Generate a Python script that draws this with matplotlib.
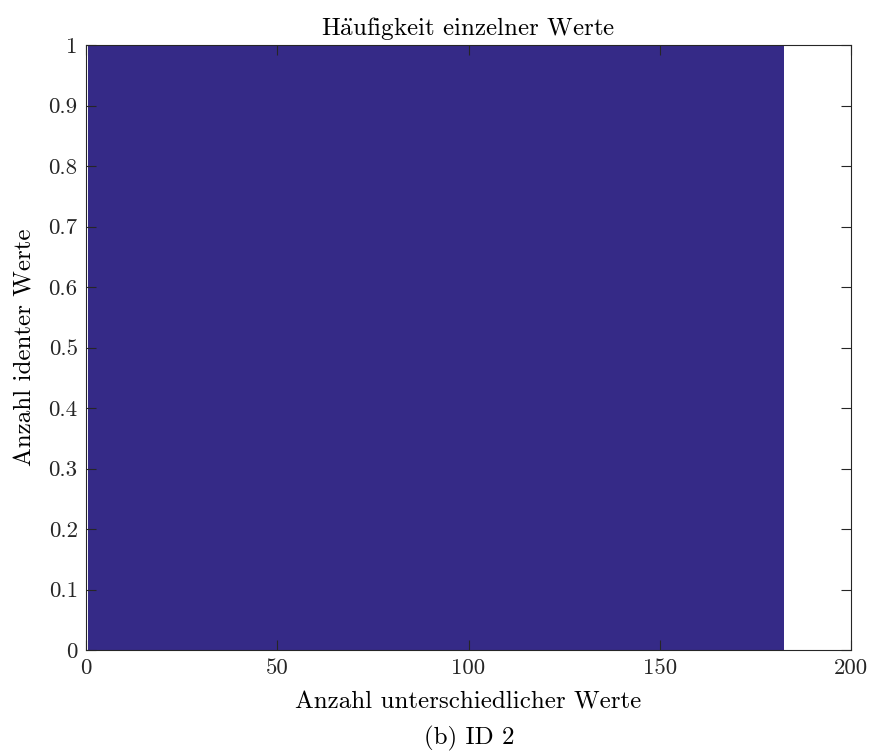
import numpy as np
import matplotlib
matplotlib.use('Agg')
import matplotlib.pyplot as plt

# Daten: jeder der 182 Werte kommt genau einmal vor
werte = np.arange(1, 183)
anzahl = [1] * 182

xticks = [0, 50, 100, 150, 200]
yticks = [0, 0.1, 0.2, 0.3, 0.4, 0.5, 0.6, 0.7, 0.8, 0.9, 1]
yticklabels = ['0', '0.1', '0.2', '0.3', '0.4', '0.5', '0.6', '0.7', '0.8', '0.9', '1']

plt.rcParams['font.family'] = ['cmr10', 'DejaVu Serif']
plt.rcParams['mathtext.fontset'] = 'cm'
plt.rcParams['axes.formatter.use_mathtext'] = True

fig = plt.figure(figsize=(8.74, 7.55), dpi=100)
ax = fig.add_axes([0.0984, 0.139, 0.8753, 0.8014])

ax.bar(werte, anzahl, width=1.0, color='#352A87', edgecolor='none')

ax.set_xlim(0, 200)
ax.set_ylim(0, 1)
ax.set_xticks(xticks)
ax.set_xticklabels([str(t) for t in xticks])
ax.set_yticks(yticks)
ax.set_yticklabels(yticklabels)

grau = '#262626'
for s in ax.spines.values():
    s.set_color(grau)
    s.set_linewidth(0.8)
ax.tick_params(direction='in', length=7, width=0.8, colors=grau,
               labelsize=16.5, top=True, right=True, pad=6)

ax.set_title(r'H$\mathrm{\ddot{a}}$ufigkeit einzelner Werte', fontsize=18, color='black', pad=7)
ax.set_xlabel('Anzahl unterschiedlicher Werte', fontsize=18, labelpad=10)
ax.set_ylabel('Anzahl identer Werte', fontsize=18, labelpad=9)

fig.text(0.537, 0.0225, '(b) ID 2', ha='center', va='center', fontsize=18)

fig.savefig('out.png', dpi=100)
